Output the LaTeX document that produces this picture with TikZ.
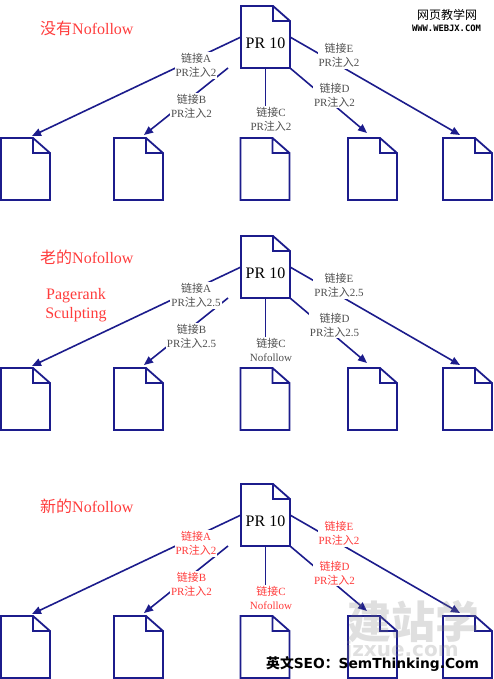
\documentclass[tikz,border=0pt]{standalone}
\usepackage{fontspec}
\setmainfont{Liberation Serif}
\newfontfamily\cjk{Noto Sans CJK SC}
\newfontfamily\wmsans{DejaVu Sans}
\newfontfamily\wmmono{DejaVu Sans Mono}
\usetikzlibrary{arrows.meta,calc}
\definecolor{navyline}{RGB}{28,28,140}
\definecolor{lblgray}{RGB}{80,80,80}
\definecolor{ttlred}{RGB}{255,60,60}
\newcommand\zh[1]{{\cjk #1}}
\tikzset{
 docbox/.style={minimum width=49pt, minimum height=62pt, inner sep=0pt, outer sep=0pt},
 prtext/.style={inner sep=0pt, font=\fontsize{16}{18}\selectfont},
 docline/.style={draw=navyline, line width=1.8pt, line join=miter},
 link/.style={draw=navyline, line width=1.6pt, -{Triangle[length=9pt,width=7.5pt]}},
 plainlink/.style={draw=navyline, line width=1.6pt},
 lbl/.style={fill=white, inner sep=1pt, align=center, text=lblgray, font=\fontsize{11}{14}\selectfont},
 redlbl/.style={lbl, text=ttlred},
 ttl/.style={anchor=west, text=ttlred, font=\fontsize{16}{19}\selectfont, inner sep=0pt},
}
\newcommand\docdraw[1]{%
 \draw[docline] (#1.north west) -- ([xshift=-17pt]#1.north east) -- ([yshift=-15pt]#1.north east) -- (#1.south east) -- (#1.south west) -- cycle
   ([xshift=-17pt]#1.north east) |- ([yshift=-15pt]#1.north east);}
% #1 prefix, #2 y offset, #3 label style, #4..#8 label texts A..E
\newcommand\diagram[8]{%
 \begin{scope}[yshift=-#2pt]
 \node[docbox] (#1t) at (265.5,37) {};
 \node[prtext] (#1pr) at (265.5,43) {PR 10};
 \node[docbox] (#1a) at (25.5,169) {};
 \node[docbox] (#1b) at (138.5,169) {};
 \node[docbox] (#1c) at (265,169) {};
 \node[docbox] (#1d) at (372.5,169) {};
 \node[docbox] (#1e) at (467.5,169) {};
 \docdraw{#1t}\docdraw{#1a}\docdraw{#1b}\docdraw{#1c}\docdraw{#1d}\docdraw{#1e}
 \coordinate (#1bs) at ([xshift=-13pt]#1t.south west);
 \coordinate (#1ce) at (265.5,112);
 \draw[link] (#1t.west) -- ([xshift=31pt,yshift=2pt]#1a.north west);
 \draw[link] (#1bs) -- ([xshift=30pt,yshift=3pt]#1b.north west);
 \draw[plainlink] (#1t.south) -- (#1ce);
 \draw[link] (#1t.south east) -- ([xshift=19pt,yshift=5pt]#1d.north west);
 \draw[link] (#1t.east) -- ([xshift=17pt,yshift=3pt]#1e.north west);
 \node[#3] (#1la) at (196,65.5) {#4};
 \node[#3] (#1lb) at (191.5,106) {#5};
 \node[#3] (#1lc) at (271,119.5) {#6};
 \node[#3] (#1ld) at (334.5,95) {#7};
 \node[#3] (#1le) at (339,55.5) {#8};
 \end{scope}}
\begin{document}
\begin{tikzpicture}[x=1pt,y=-1pt]
\useasboundingbox[fill=white] (0,0) rectangle (493,679);
% diagram 1
\node[ttl] (t1) at (40,28) {\zh{没有}Nofollow};
\diagram{p}{0}{lbl}{\zh{链接}A\\PR\zh{注入}2}{\zh{链接}B\\PR\zh{注入}2}{\zh{链接}C\\PR\zh{注入}2}{\zh{链接}D\\PR\zh{注入}2}{\zh{链接}E\\PR\zh{注入}2}
% diagram 2
\node[ttl] (t2) at (40,257) {\zh{老的}Nofollow};
\node[text=ttlred, align=center, font=\fontsize{16}{19}\selectfont, inner sep=0pt] (ps) at (76,305.5) {Pagerank\\Sculpting};
\diagram{q}{230}{lbl}{\zh{链接}A\\PR\zh{注入}2.5}{\zh{链接}B\\PR\zh{注入}2.5}{\zh{链接}C\\Nofollow}{\zh{链接}D\\PR\zh{注入}2.5}{\zh{链接}E\\PR\zh{注入}2.5}
% diagram 3
\node[ttl] (t3) at (40,506) {\zh{新的}Nofollow};
\diagram{r}{478}{redlbl}{\zh{链接}A\\PR\zh{注入}2}{\zh{链接}B\\PR\zh{注入}2}{\zh{链接}C\\Nofollow}{\zh{链接}D\\PR\zh{注入}2}{\zh{链接}E\\PR\zh{注入}2}
% watermarks
\node[font=\cjk\fontsize{12}{12}\selectfont, inner sep=0pt] (w1) at (447,15) {网页教学网};
\node[font=\wmmono\bfseries\fontsize{8.8}{9}\selectfont, inner sep=0pt] (w2) at (446.5,28) {WWW.WEBJX.COM};
\node[font=\cjk\bfseries\fontsize{44}{44}\selectfont, text=gray, opacity=0.25, inner sep=0pt] (w3) at (413,622) {建站学};
\node[font=\wmsans\bfseries\fontsize{20}{20}\selectfont, text=gray, opacity=0.25, inner sep=0pt] (w4) at (402,651) {jzxue.com};
\node[anchor=west, inner sep=0pt, font=\fontsize{13.8}{14}\selectfont] (w5) at (266,664) {{\cjk\bfseries 英文}{\wmsans\bfseries SEO}{\cjk\bfseries ：}{\wmsans\bfseries SemThinking.Com}};
\end{tikzpicture}
\end{document}
